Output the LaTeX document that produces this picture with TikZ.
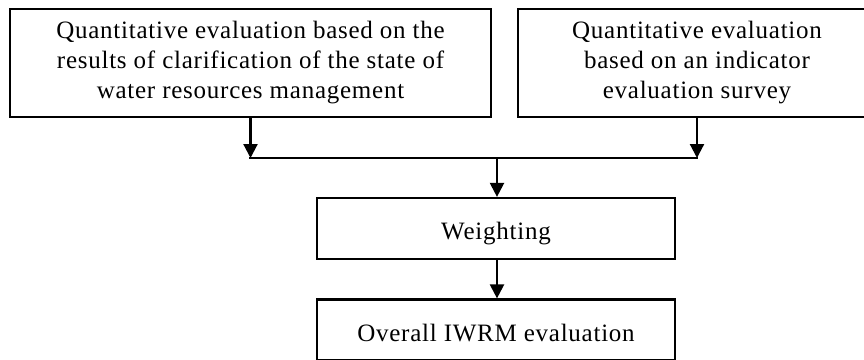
\documentclass[tikz,border=0pt]{standalone}
\usepackage{fontspec}
\setmainfont{Liberation Serif}[LetterSpace=3]
\usetikzlibrary{arrows.meta}
\begin{document}
\begin{tikzpicture}[x=1pt,y=-1pt,
  box/.style={draw, line width=2.2pt, rectangle, inner sep=0pt, align=center,
    font=\fontsize{25}{30}\selectfont},
  single/.style={text height=22pt, text depth=0pt},
  conn/.style={line width=2.2pt},
  arr/.style={conn, -{Triangle[length=14pt,width=14pt]}}]
\useasboundingbox (0,0) rectangle (864,359);
\clip (0,0) rectangle (864,359);
\node[box, minimum width=481pt, minimum height=108pt] (q1) at (250.5,63)
  {Quantitative evaluation based on the\\results of clarification of the state of\\water resources management};
\node[box, minimum width=358pt, minimum height=108pt] (q2) at (697,63)
  {Quantitative evaluation\\based on an indicator\\evaluation survey};
\node[box, single, minimum width=358pt, minimum height=61pt] (w) at (496,228.5) {Weighting};
\node[box, single, minimum width=358pt, minimum height=61pt] (o) at (496,330) {Overall IWRM evaluation};
\coordinate (j1) at (q1.south |- 0,158);
\coordinate (j2) at (q2.south |- 0,158);
\coordinate (jm) at (497,158);
\draw[arr] (q1.south) -- (j1);
\draw[arr] (q2.south) -- (j2);
\draw[conn, line cap=rect] (j1) -- (j2);
\draw[arr] (jm) -- (jm |- w.north);
\draw[arr] (w.south -| jm) -- (jm |- o.north);
\end{tikzpicture}
\end{document}
